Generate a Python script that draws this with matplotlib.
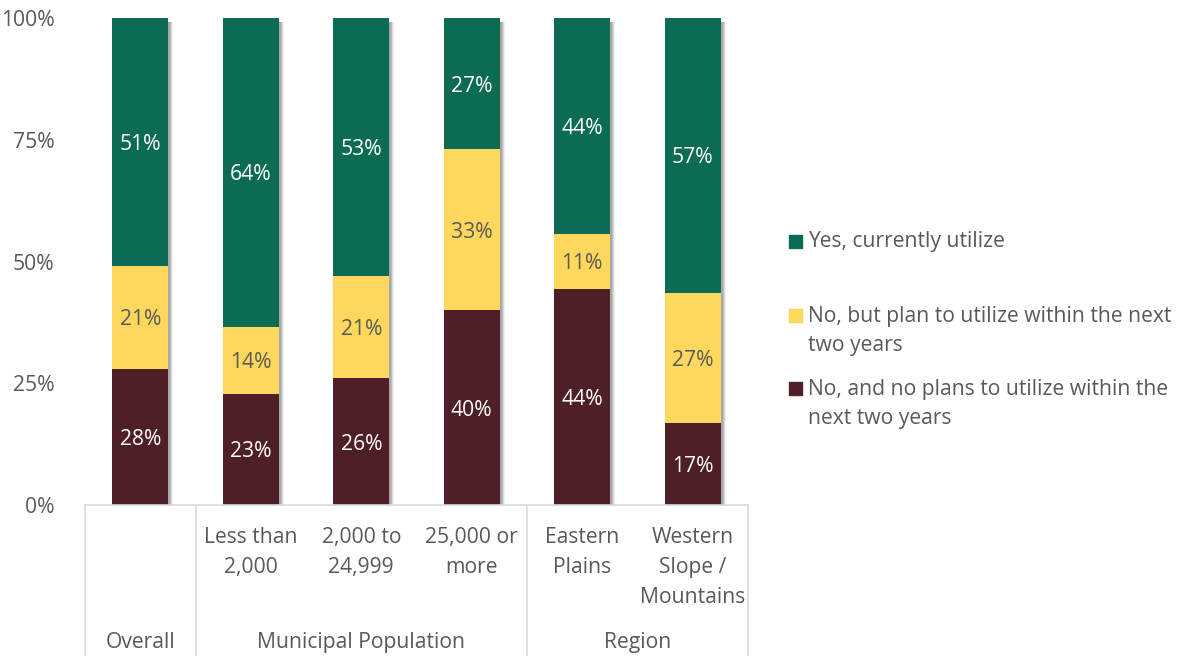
import matplotlib.pyplot as plt
from matplotlib.patches import Rectangle
from matplotlib.transforms import blended_transform_factory
import numpy as np

CATEGORIES = ['', 'Less than\n2,000', '2,000 to\n24,999', '25,000 or\nmore',
              'Eastern\nPlains', 'Western\nSlope /\nMountains']
GROUPS = [('Overall', 0, 0), ('Municipal Population', 1, 3), ('Region', 4, 5)]
SERIES = ['No, and no plans to utilize within the\nnext two years',
          'No, but plan to utilize within the next\ntwo years',
          'Yes, currently utilize']
NO_PLANS = [28, 23, 26, 40, 44, 17]
PLAN = [21, 14, 21, 33, 11, 27]
YES = [51, 64, 53, 27, 44, 57]
COLORS = ['#4E1F26', '#FDD85D', '#0B6B53']
YTICKS = [0, 25, 50, 75, 100]

plt.rcParams['font.family'] = ['Open Sans', 'DejaVu Sans']
TXT = '#595959'
FS = 15.2

fig = plt.figure(figsize=(11.81, 6.56), dpi=100)
W, H = 1181, 656
ax = fig.add_axes([85 / W, (656 - 505) / H, (748 - 85) / W, (505 - 18) / H])

raw = np.array([NO_PLANS, PLAN, YES], dtype=float)
pct = raw / raw.sum(axis=0) * 100
x = np.arange(len(CATEGORIES))
bw = 0.505
px = 1 / 110.5

# soft shadow to the right of each bar
for off, c in [(5, '#f0f0f0'), (4, '#dadada'), (3, '#bdbdbd'), (2, '#a8a8a8')]:
    ax.bar(x + off * px, 100 - 4 * 0.205, width=bw, color=c, zorder=1, linewidth=0)

bottom = np.zeros(len(x))
for vals, shown, c in zip(pct, raw, COLORS):
    ax.bar(x, vals, width=bw, bottom=bottom, color=c, zorder=2, linewidth=0)
    for xi, b, v, s in zip(x, bottom, vals, shown):
        tc = TXT if c == '#FDD85D' else 'white'
        ax.text(xi, b + v / 2 - 0.5, f'{int(s)}%', ha='center', va='center', color=tc, fontsize=FS, zorder=3)
    bottom += vals

ax.set_xlim(-0.5, len(x) - 0.5)
ax.set_ylim(0, 100)
ax.set_yticks(YTICKS)
ax.set_yticklabels([f'{t}%' for t in YTICKS], color=TXT, fontsize=FS)
ax.tick_params(axis='y', length=0, pad=22)
ax.set_xticks([])
for s in ['top', 'right', 'left']:
    ax.spines[s].set_visible(False)
ax.spines['bottom'].set_color('#d9d9d9')
ax.spines['bottom'].set_linewidth(1.2)

tr = blended_transform_factory(ax.transData, ax.transAxes)
depth = -(656 - 505) / (505 - 18)
for xv in [-0.5, 0.5, 3.5, 5.5]:
    ax.plot([xv, xv], [0, depth], transform=tr, color='#d9d9d9', lw=1.2, clip_on=False)

for xi, lab in zip(x, CATEGORIES):
    ax.text(xi, -0.046, lab, transform=tr, ha='center', va='top', color=TXT,
            fontsize=FS, linespacing=1.55)
for name, a, b in GROUPS:
    ax.text((a + b) / 2, -0.282, name, transform=tr, ha='center', va='center', color=TXT, fontsize=FS)

# legend, top entry first
leg_y = [242, 331, 404]
for lab, c, yy in zip(SERIES[::-1], COLORS[::-1], leg_y):
    nlines = lab.count('\n') + 1
    top = yy - (nlines - 1) * 15
    fig.patches.append(Rectangle((789 / W, 1 - (top + 6) / H), 13 / W, 13 / H,
                                 transform=fig.transFigure, color=c))
    fig.text(808 / W, 1 - yy / H, lab, ha='left', va='center', color=TXT,
             fontsize=FS, linespacing=1.55)

fig.savefig('out.png', dpi=100)
